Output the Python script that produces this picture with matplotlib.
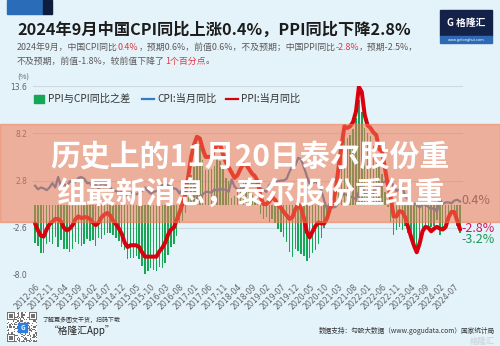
import numpy as np
import pandas as pd
import matplotlib
matplotlib.use("Agg")
import matplotlib.pyplot as plt
from matplotlib.patches import Rectangle
from matplotlib.lines import Line2D

plt.rcParams['font.family'] = ['Noto Sans CJK SC', 'DejaVu Sans']
plt.rcParams['axes.unicode_minus'] = False

# =========================
# Data: China CPI / PPI YoY (%), 2012-06 .. 2024-09
# =========================
months = pd.period_range("2012-06", "2024-09", freq="M").strftime("%Y-%m").tolist()

cpi = [2.2, 1.8, 2.0, 1.9, 1.7, 2.0, 2.5,
       2.0, 3.2, 2.1, 2.4, 2.1, 2.7, 2.7, 2.6, 3.1, 3.2, 3.0, 2.5,
       2.5, 2.0, 2.4, 1.8, 2.5, 2.3, 2.3, 2.0, 1.6, 1.6, 1.4, 1.5,
       0.8, 1.4, 1.4, 1.5, 1.2, 1.4, 1.6, 2.0, 1.6, 1.3, 1.5, 1.6,
       1.8, 2.3, 2.3, 2.3, 2.0, 1.9, 1.8, 1.3, 1.9, 2.1, 2.3, 2.1,
       2.5, 0.8, 0.9, 1.2, 1.5, 1.5, 1.4, 1.8, 1.6, 1.9, 1.7, 1.8,
       1.5, 2.9, 2.1, 1.8, 1.8, 1.9, 2.1, 2.3, 2.5, 2.5, 2.2, 1.9,
       1.7, 1.5, 2.3, 2.5, 2.7, 2.7, 2.8, 2.8, 3.0, 3.8, 4.5, 4.5,
       5.4, 5.2, 4.3, 3.3, 2.4, 2.5, 2.7, 2.4, 1.7, 0.5, -0.5, 0.2,
       -0.3, -0.2, 0.4, 0.9, 1.3, 1.1, 1.0, 0.8, 0.7, 1.5, 2.3, 1.5,
       0.9, 0.9, 1.5, 2.1, 2.1, 2.5, 2.7, 2.5, 2.8, 2.1, 1.6, 1.8,
       2.1, 1.0, 0.7, 0.1, 0.2, 0.0, -0.3, 0.1, 0.0, -0.2, -0.5, -0.3,
       -0.8, 0.7, 0.1, 0.3, 0.3, 0.2, 0.5, 0.6, 0.4]

ppi = [-2.1, -2.9, -3.5, -3.6, -2.8, -2.2, -1.9,
       -1.6, -1.6, -1.9, -2.6, -2.9, -2.7, -2.3, -1.6, -1.3, -1.5, -1.4, -1.4,
       -1.6, -2.0, -2.3, -2.0, -1.4, -1.1, -0.9, -1.2, -1.8, -2.2, -2.7, -3.3,
       -4.3, -4.8, -4.6, -4.6, -4.6, -4.8, -5.4, -5.9, -5.9, -5.9, -5.9, -5.9,
       -5.3, -4.9, -4.3, -3.4, -2.8, -2.6, -1.7, -0.8, 0.1, 1.2, 3.3, 5.5,
       6.9, 7.8, 7.6, 6.4, 5.5, 5.5, 5.5, 6.3, 6.9, 6.9, 5.8, 4.9,
       4.3, 3.7, 3.1, 3.4, 4.1, 4.7, 4.6, 4.1, 3.6, 3.3, 2.7, 0.9,
       0.1, 0.1, 0.4, 0.9, 0.6, 0.0, -0.3, -0.8, -1.2, -1.6, -1.4, -0.5,
       0.1, -0.4, -1.5, -3.1, -3.7, -3.0, -2.4, -2.0, -2.1, -2.1, -1.5, -0.4,
       0.3, 1.7, 4.4, 6.8, 9.0, 8.8, 9.0, 9.5, 10.7, 13.5, 12.9, 10.3,
       9.1, 8.8, 8.3, 8.0, 6.4, 6.1, 4.2, 2.3, 0.9, -1.3, -1.3, -0.7,
       -0.8, -1.4, -2.5, -3.6, -4.6, -5.4, -4.4, -3.0, -2.5, -2.6, -3.0, -2.7,
       -2.5, -2.7, -2.8, -2.5, -1.4, -0.8, -0.8, -1.8, -2.8]

yticks = [13.6, 8.2, 2.8, -2.6, -8.0]

BG = "#e4f2fa"
GREEN = "#17a556"
BLUE = "#2f7dc4"
RED = "#d9000e"
GRAY = "#5f6368"


def fx(px):
    return px / 500


def fy(py):
    return 1 - py / 346


cpi = np.array(cpi)
ppi = np.array(ppi)
spread = ppi - cpi
x = np.arange(len(months))

fig = plt.figure(figsize=(5, 3.46), dpi=100, facecolor=BG)

# =========================
# Main chart
# =========================
ax = fig.add_axes([fx(33), fy(275), (463 - 33) / 500, (275 - 86) / 346])
ax.set_facecolor("none")
ax.bar(x, spread, width=0.5, color=GREEN, zorder=2)
ax.plot(x, cpi, color=BLUE, lw=1.6, zorder=3, solid_joinstyle="round")
ax.plot(x, ppi, color=RED, lw=2.9, zorder=4, solid_joinstyle="round",
        solid_capstyle="round")

ax.set_xlim(-0.7, 148)
ax.set_ylim(-8.0, 13.6)
ax.set_yticks(yticks)
ax.set_yticklabels([f"{v:.1f}" for v in yticks], fontsize=5.5, color=GRAY,
                   family="DejaVu Sans")
ax.set_xticks(x[::5])
ax.set_xticklabels(months[::5], rotation=45, ha="right", va="top",
                   rotation_mode="anchor", fontsize=5.6, color=GRAY,
                   family="DejaVu Sans")
ax.tick_params(length=0)
ax.tick_params(axis="y", pad=4)
ax.tick_params(axis="x", pad=5)
ax.grid(axis="y", color="#cdd8e1", lw=0.8, zorder=0)
for s in ax.spines.values():
    s.set_visible(False)

# end-of-series value labels
last = len(months) - 1
ax.annotate(f"{cpi[-1]:.1f}%", (last, cpi[-1]), xytext=(1, 1),
            textcoords="offset points", fontsize=9, color="#3f5874",
            va="center", ha="left", annotation_clip=False, zorder=5)
ax.annotate(f"{ppi[-1]:.1f}%", (last, ppi[-1]), xytext=(1, 1),
            textcoords="offset points", fontsize=9, color="#d4145a",
            va="center", ha="left", annotation_clip=False, zorder=5)
ax.annotate(f"{spread[-1]:.1f}%", (last, spread[-1]), xytext=(1, -5),
            textcoords="offset points", fontsize=9, color="#1a9a50",
            va="center", ha="left", annotation_clip=False, zorder=5)

fig.text(fx(17), fy(78), "(%)", fontsize=5.5, color=GRAY, va="center")

# legend
fig.patches.append(Rectangle((fx(34), fy(103)), 10 / 500, 8 / 346,
                             transform=fig.transFigure, color=GREEN))
fig.text(fx(48), fy(99), "PPI与CPI同比之差", fontsize=7.3, color="#333", va="center")
fig.lines.append(Line2D([fx(142), fx(154)], [fy(99), fy(99)],
                        transform=fig.transFigure, color=BLUE, lw=1.6))
fig.text(fx(157), fy(99), "CPI:当月同比", fontsize=7.3, color="#333", va="center")
fig.lines.append(Line2D([fx(226), fx(238)], [fy(99), fy(99)],
                        transform=fig.transFigure, color=RED, lw=1.6))
fig.text(fx(241), fy(99), "PPI:当月同比", fontsize=7.3, color="#333", va="center")

# =========================
# Header
# =========================
fig.patches.append(Rectangle((fx(7), fy(14)), 36 / 500, 14 / 346,
                             transform=fig.transFigure, color="#2b6cb8"))
fig.patches.append(Rectangle((fx(43), fy(14)), 9 / 500, 14 / 346,
                             transform=fig.transFigure, color="#0f1d3c"))

fig.text(fx(17), fy(30), "2024年9月中国CPI同比上涨0.4%，PPI同比下降2.8%",
         fontsize=11.7, fontweight="bold", color="#1c1c1c", va="center")

renderer = fig.canvas.get_renderer()


def text_runs(px, py, parts, size):
    for s, c in parts:
        t = fig.text(fx(px), fy(py), s, color=c, fontsize=size, va="center")
        px += t.get_window_extent(renderer).width


SUB = "#5a5a5a"
HL = "#e0383e"
text_runs(17, 47, [("2024年9月，中国CPI同比", SUB), ("0.4%", HL),
                   ("，预期0.6%，前值0.6%，不及预期；中国PPI同比", SUB),
                   ("-2.8%", HL), ("，预期-2.5%，", SUB)], 6.4)
text_runs(17, 61, [("不及预期，前值-1.8%，较前值下降了", SUB),
                   ("1个百分点", HL), ("。", SUB)], 6.4)

# logo
fig.patches.append(Rectangle((fx(440), fy(36)), 52 / 500, 26 / 346,
                             transform=fig.transFigure, color="#14224a"))
fig.patches.append(Rectangle((fx(440), fy(43)), 52 / 500, 7 / 346,
                             transform=fig.transFigure, color="#2e6ab4"))
fig.text(fx(466), fy(23), "G 格隆汇", fontsize=7, fontweight="bold",
         color="white", ha="center", va="center")
fig.text(fx(466), fy(39.5), "www.gelonghui.com", fontsize=2.6,
         color="white", ha="center", va="center", family="DejaVu Sans")

# =========================
# Footer
# =========================
qr = fig.add_axes([fx(7), fy(342), 30 / 500, 30 / 346])
n = 25
i, j = np.indices((n, n))
cells = (((i * 7 + j * 11) ^ (i * j)) % 3 == 0).astype(float)
for r0, c0 in [(0, 0), (0, n - 7), (n - 7, 0)]:
    cells[r0:r0 + 7, c0:c0 + 7] = 1
    cells[r0 + 1:r0 + 6, c0 + 1:c0 + 6] = 0
    cells[r0 + 2:r0 + 5, c0 + 2:c0 + 5] = 1
qr.imshow(cells, cmap="Greys", vmin=0, vmax=1.6, interpolation="nearest")
qr.add_patch(Rectangle((9, 9), 7, 7, color="#2e7de0"))
qr.text(12.5, 12.7, "G", color="white", fontsize=4.5, fontweight="bold",
        ha="center", va="center")
qr.axis("off")

fig.text(fx(42), fy(320), "了解更多图文干货，扫码下载", fontsize=4.3,
         color="#333", style="italic", va="center")
fig.text(fx(49), fy(331), "“格隆汇App”", fontsize=7, color="#222",
         style="italic", va="center")
fig.text(fx(495), fy(331), "数据支持：勾股大数据（www.gogudata.com）国家统计局",
         fontsize=4.8, color="#333", ha="right", va="center")
fig.text(fx(495), fy(341), "格隆汇", fontsize=6, color="#cfd8e0",
         ha="right", va="center", fontweight="bold")

# =========================
# Banner across the chart
# =========================
fig.patches.append(Rectangle((0, fy(222)), 1, (222 - 124) / 346,
                             transform=fig.transFigure, color="#f2794e",
                             alpha=0.55, zorder=5))
fig.text(0.5, fy(157), "历史上的11月20日泰尔股份重", fontsize=21.5,
         fontweight="bold", color="white", ha="center", va="center", zorder=6)
fig.text(0.5, fy(194), "组最新消息，泰尔股份重组重", fontsize=21.5,
         fontweight="bold", color="white", ha="center", va="center", zorder=6)

fig.savefig("out.png", dpi=100, facecolor=BG)
